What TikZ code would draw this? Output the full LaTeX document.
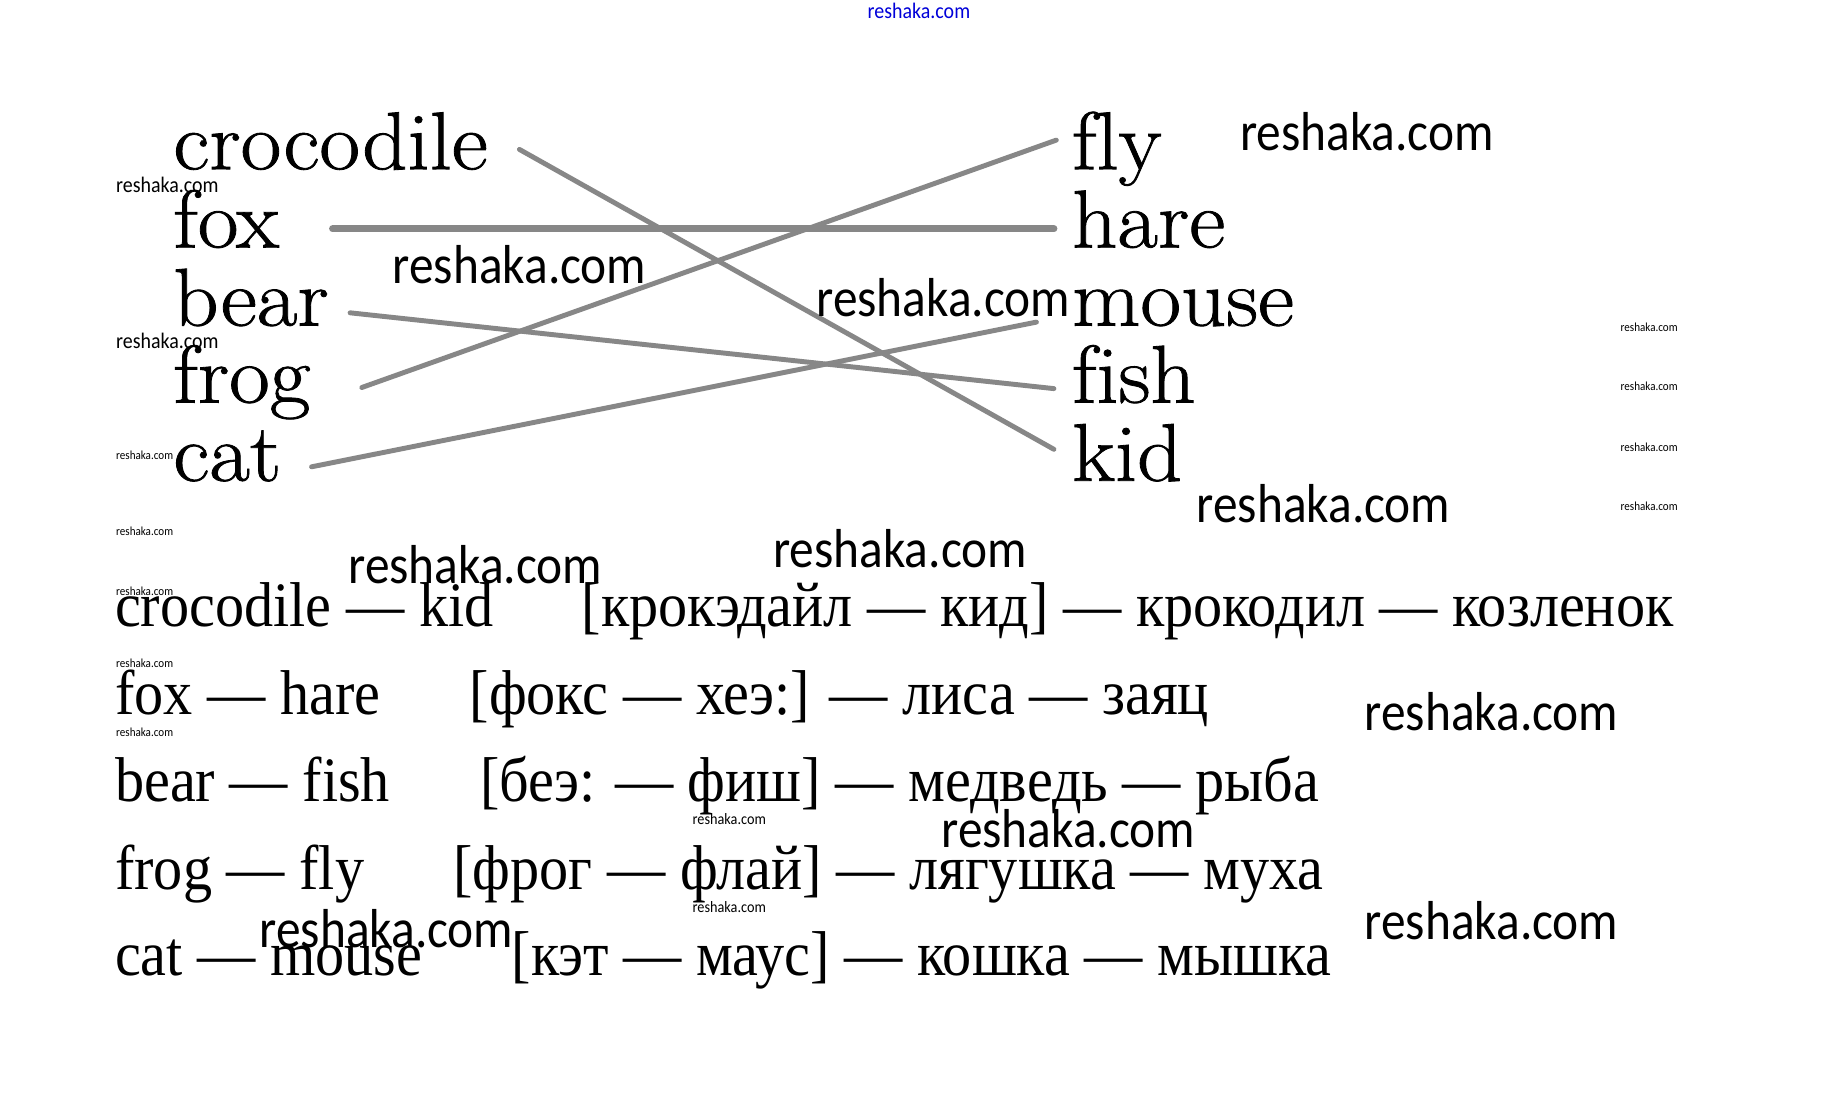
\documentclass[tikz,border=0pt]{standalone}
\usepackage{fontspec}
\newfontfamily\topfont[FakeStretch=1.08, FakeBold=1, Ligatures=NoCommon]{Latin Modern Roman}
\newfontfamily\rowfont[FakeStretch=0.92]{Liberation Serif}
\newfontfamily\wmfont[FakeStretch=0.9]{Carlito}
\usetikzlibrary{calc}

\tikzstyle{word} = [anchor=base west, inner sep=0pt, font=\topfont\fontsize{23.3}{24}\selectfont]
\tikzstyle{pair} = [anchor=base west, inner sep=0pt, font=\rowfont\fontsize{18}{20}\selectfont]
\tikzstyle{link} = [draw=black!47, line width=1.4pt, line cap=round]
\tikzstyle{wmbig} = [anchor=west, inner sep=0pt, font=\wmfont\fontsize{15.6}{16}\selectfont]
\tikzstyle{wmsmall} = [anchor=west, inner sep=0pt, font=\wmfont\fontsize{6.3}{7}\selectfont]
\tikzstyle{wmtiny} = [anchor=west, inner sep=0pt, font=\wmfont\fontsize{3.5}{4}\selectfont]

\begin{document}
\begin{tikzpicture}[x=0.01cm, y=-0.01cm]
\fill [white] (0,0) rectangle (1830,1093);
\useasboundingbox (0,0) rectangle (1830,1093);

\node [word] (crocodile) at (172.7,169.2) {crocodile};
\node [word] (fox) at (172.7,247.4) {fox};
\node [word] (bear) at (172.7,325.6) {bear};
\node [word] (frog) at (172.7,402.6) {frog};
\node [word] (cat) at (172.7,480.8) {cat};

\node [word] (fly) at (1071.4,169.2) {fly};
\node [word] (hare) at (1071.4,247.4) {hare};
\node [word] (mouse) at (1071.4,325.6) {mouse};
\node [word] (fish) at (1071.4,402.6) {fish};
\node [word] (kid) at (1071.4,480.8) {kid};

\draw [link] ($(crocodile.base west)+(346.7,-19.8)$) -- ($(kid.base west)+(-17.5,-31.5)$);
\draw [link, line width=2pt] ($(fox.base west)+(159.9,-18.6)$) -- ($(hare.base west)+(-17.5,-18.6)$);
\draw [link] ($(bear.base west)+(177.4,-12.8)$) -- ($(fish.base west)+(-17.5,-14)$);
\draw [link] ($(frog.base west)+(189.1,-15.1)$) -- ($(fly.base west)+(-15.1,-29.1)$);
\draw [link] ($(cat.base west)+(138.9,-14)$) -- ($(mouse.base west)+(-35,-3.5)$);

\node [pair] (crocodilekid) at (114.4,626.7) {crocodile — kid};
\node [pair] (crocodilekidru) at (581,626.7) {[крокэдайл — кид] — крокодил — козленок};
\node [pair] (foxhare) at (114.4,714.3) {fox — hare};
\node [pair] (foxhareru) at (469,714.3) {[фокс — хеэ:] — лиса — заяц};
\node [pair] (bearfish) at (114.4,801.8) {bear — fish};
\node [pair] (bearfishru) at (479.7,801.8) {[беэ: — фиш] — медведь — рыба};
\node [pair] (frogfly) at (114.4,889.3) {frog — fly};
\node [pair] (frogflyru) at (452.8,889.3) {[фрог — флай] — лягушка — муха};
\node [pair] (catmouse) at (114.4,975.7) {cat — mouse};
\node [pair] (catmouseru) at (511,975.7) {[кэт — маус] — кошка — мышка};

\node [wmsmall, text=blue!85!black] (wmtop) at (867,10.5) {reshaka.com};

\node [wmbig] (wm1) at (1239.5,132) {reshaka.com};
\node [wmbig] (wm2) at (392,265) {reshaka.com};
\node [wmbig] (wm3) at (815.8,297.6) {reshaka.com};
\node [wmbig] (wm4) at (1196,504) {reshaka.com};
\node [wmbig] (wm5) at (772.6,548.5) {reshaka.com};
\node [wmbig] (wm6) at (347.8,565) {reshaka.com};
\node [wmbig] (wm7) at (1364,712) {reshaka.com};
\node [wmbig] (wm8) at (940.7,828.6) {reshaka.com};
\node [wmbig] (wm9) at (1364,920.8) {reshaka.com};
\node [wmbig] (wm10) at (259,929) {reshaka.com};

\node [wmsmall] (wms1) at (115.5,185) {reshaka.com};
\node [wmsmall] (wms2) at (115.5,341) {reshaka.com};

\node [wmtiny] (wmt1) at (115.5,455.2) {reshaka.com};
\node [wmtiny] (wmt2) at (115.5,531) {reshaka.com};
\node [wmtiny] (wmt3) at (115.5,591.7) {reshaka.com};
\node [wmtiny] (wmt4) at (115.5,663) {reshaka.com};
\node [wmtiny] (wmt5) at (115.5,731.8) {reshaka.com};
\node [wmtiny, font=\wmfont\fontsize{4.5}{5}\selectfont] (wmt6) at (692,819.3) {reshaka.com};
\node [wmtiny, font=\wmfont\fontsize{4.5}{5}\selectfont] (wmt7) at (692,906.8) {reshaka.com};
\node [wmtiny] (wmr1) at (1620,326.8) {reshaka.com};
\node [wmtiny] (wmr2) at (1620,386.5) {reshaka.com};
\node [wmtiny] (wmr3) at (1620,446.8) {reshaka.com};
\node [wmtiny] (wmr4) at (1620,506.6) {reshaka.com};
\end{tikzpicture}
\end{document}
